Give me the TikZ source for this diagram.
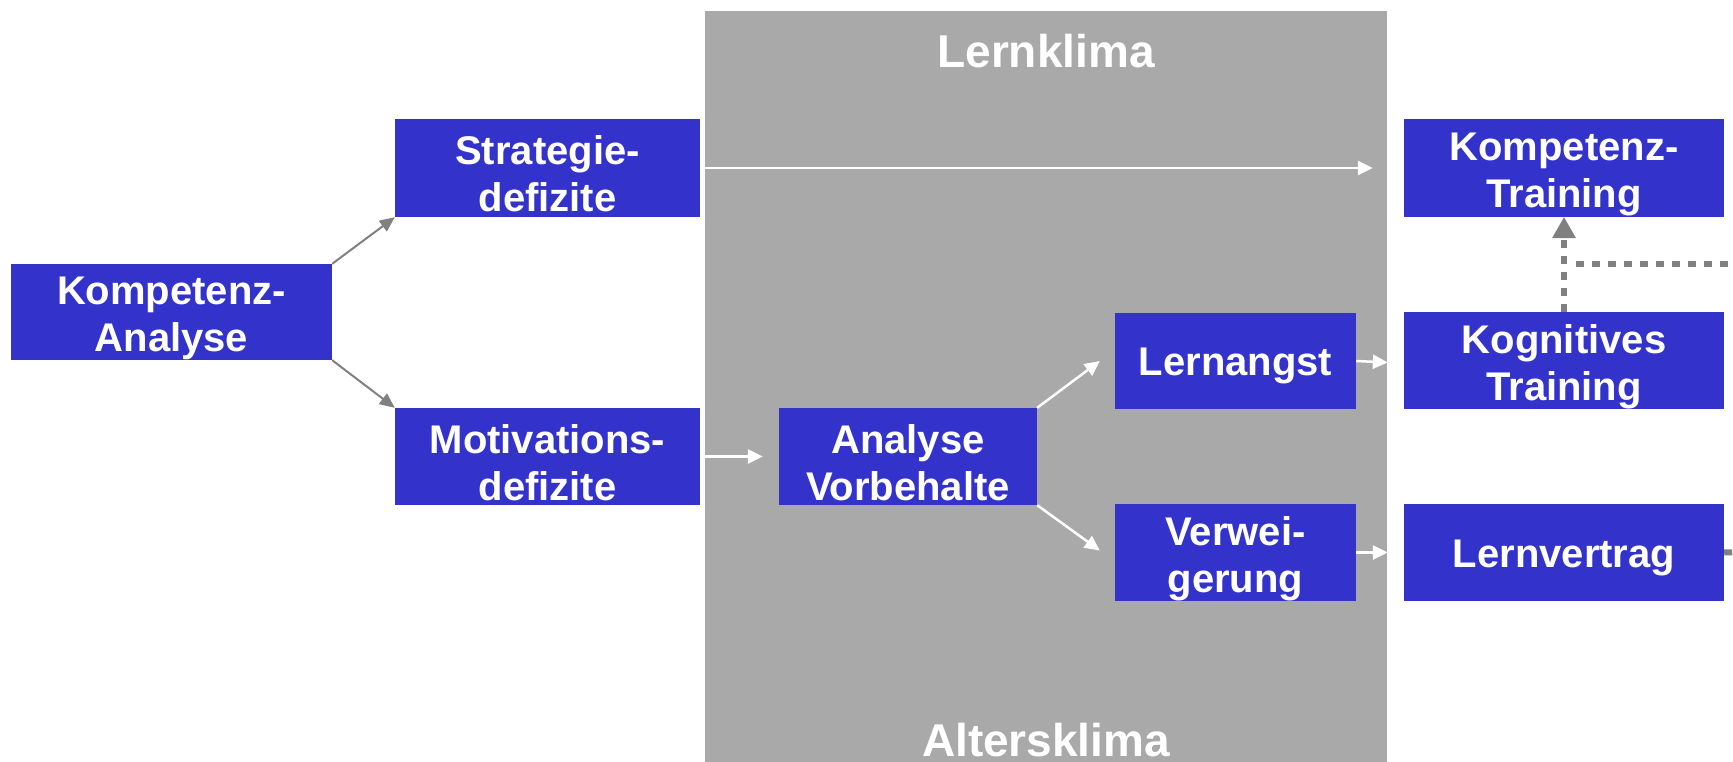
\documentclass[tikz,border=0pt]{standalone}
\usepackage{fontspec}
\setmainfont{Liberation Sans}
\usetikzlibrary{arrows.meta,calc}
\definecolor{boxblue}{RGB}{51,51,204}
\definecolor{bggray}{RGB}{169,169,169}
\definecolor{arrgray}{RGB}{128,128,128}
\tikzset{
  blbox/.style={fill=boxblue, inner sep=0pt},
  btxt/.style={text=white, align=center, inner sep=0pt,
    font=\fontsize{40}{47}\selectfont\bfseries},
  clim/.style={text=white, inner sep=0pt, font=\fontsize{46}{52}\selectfont\bfseries},
  garrow/.style={draw=arrgray, line width=2pt, -{Triangle[length=15pt,width=13pt]}},
  warrow/.style={draw=white, line width=2.5pt, -{Triangle[length=15pt,width=14pt]}},
  dotline/.style={draw=arrgray, line width=6pt, dash pattern=on 8pt off 8pt},
}
\begin{document}
\begin{tikzpicture}[x=1pt,y=-1pt]
\useasboundingbox (0,0) rectangle (1733,761);
\clip (0,0) rectangle (1733,761);
% background panel
\node[fill=bggray, inner sep=0pt, minimum width=682pt, minimum height=770pt, anchor=north west] (klima) at (705,11) {};
\node[clim] (lk) at (1046,51) {Lernklima};
\node[clim] (ak) at (1046,740) {Altersklima};
% boxes
\node[blbox, minimum width=321pt, minimum height=96pt] (KA) at (171.5,312) {};
\node[blbox, minimum width=305pt, minimum height=98pt] (SD) at (547.5,168) {};
\node[blbox, minimum width=305pt, minimum height=97pt] (MD) at (547.5,456.5) {};
\node[blbox, minimum width=258pt, minimum height=97pt] (AV) at (908,456.5) {};
\node[blbox, minimum width=241pt, minimum height=96pt] (LA) at (1235.5,361) {};
\node[blbox, minimum width=241pt, minimum height=97pt] (VW) at (1235.5,552.5) {};
\node[blbox, minimum width=320pt, minimum height=98pt] (KT) at (1564,168) {};
\node[blbox, minimum width=320pt, minimum height=97pt] (KgT) at (1564,360.5) {};
\node[blbox, minimum width=320pt, minimum height=97pt] (LV) at (1564,552.5) {};
% box texts
\node[btxt] (tKA) at ([yshift=-6pt]KA.center) {Kompetenz-\\Analyse};
\node[btxt] (tSD) at ([yshift=-6pt]SD.center) {Strategie-\\defizite};
\node[btxt] (tMD) at ([yshift=-6pt]MD.center) {Motivations-\\defizite};
\node[btxt] (tAV) at ([yshift=-6pt]AV.center) {Analyse\\Vorbehalte};
\node[btxt] (tLA) at ([yshift=-5pt]LA.center) {Lernangst};
\node[btxt] (tVW) at ([yshift=-6pt]VW.center) {Verwei-\\gerung};
\node[btxt] (tKT) at ([yshift=-6pt]KT.center) {Kompetenz-\\Training};
\node[btxt] (tKgT) at ([yshift=-6pt]KgT.center) {Kognitives\\Training};
\node[btxt] (tLV) at ([yshift=-5pt]LV.center) {Lernvertrag};
% connectors
\draw[garrow] (KA.north east) -- (SD.south west);
\draw[garrow] (KA.south east) -- (MD.north west);
\draw[warrow, shorten >=31pt] (SD.east) -- (KT.west);
\draw[warrow, shorten >=16pt] (MD.east) -- (AV.west);
\draw[warrow] (AV.north east) -- ($(LA.west)+(-15,0)$);
\draw[warrow] (AV.south east) -- ($(VW.west)+(-15,-2)$);
\draw[warrow] (LA.east) -- ($(KgT.west)+(-16,2)$);
\draw[warrow, shorten >=16pt] (VW.east) -- (LV.west);
% dotted links
\coordinate (jn) at (1564,264);
\coordinate (outA) at (1740,264);
\coordinate (outB) at (1740,552);
\draw[dotline] (KgT.north) -- ($(KT.south)+(0,21)$);
\fill[arrgray] (KT.south) -- ++(-12,21) -- ++(24,0) -- cycle;
\draw[dotline] ($(jn)+(12,0)$) -- (outA);
\draw[dotline] (LV.east) -- (outB);
\end{tikzpicture}
\end{document}
